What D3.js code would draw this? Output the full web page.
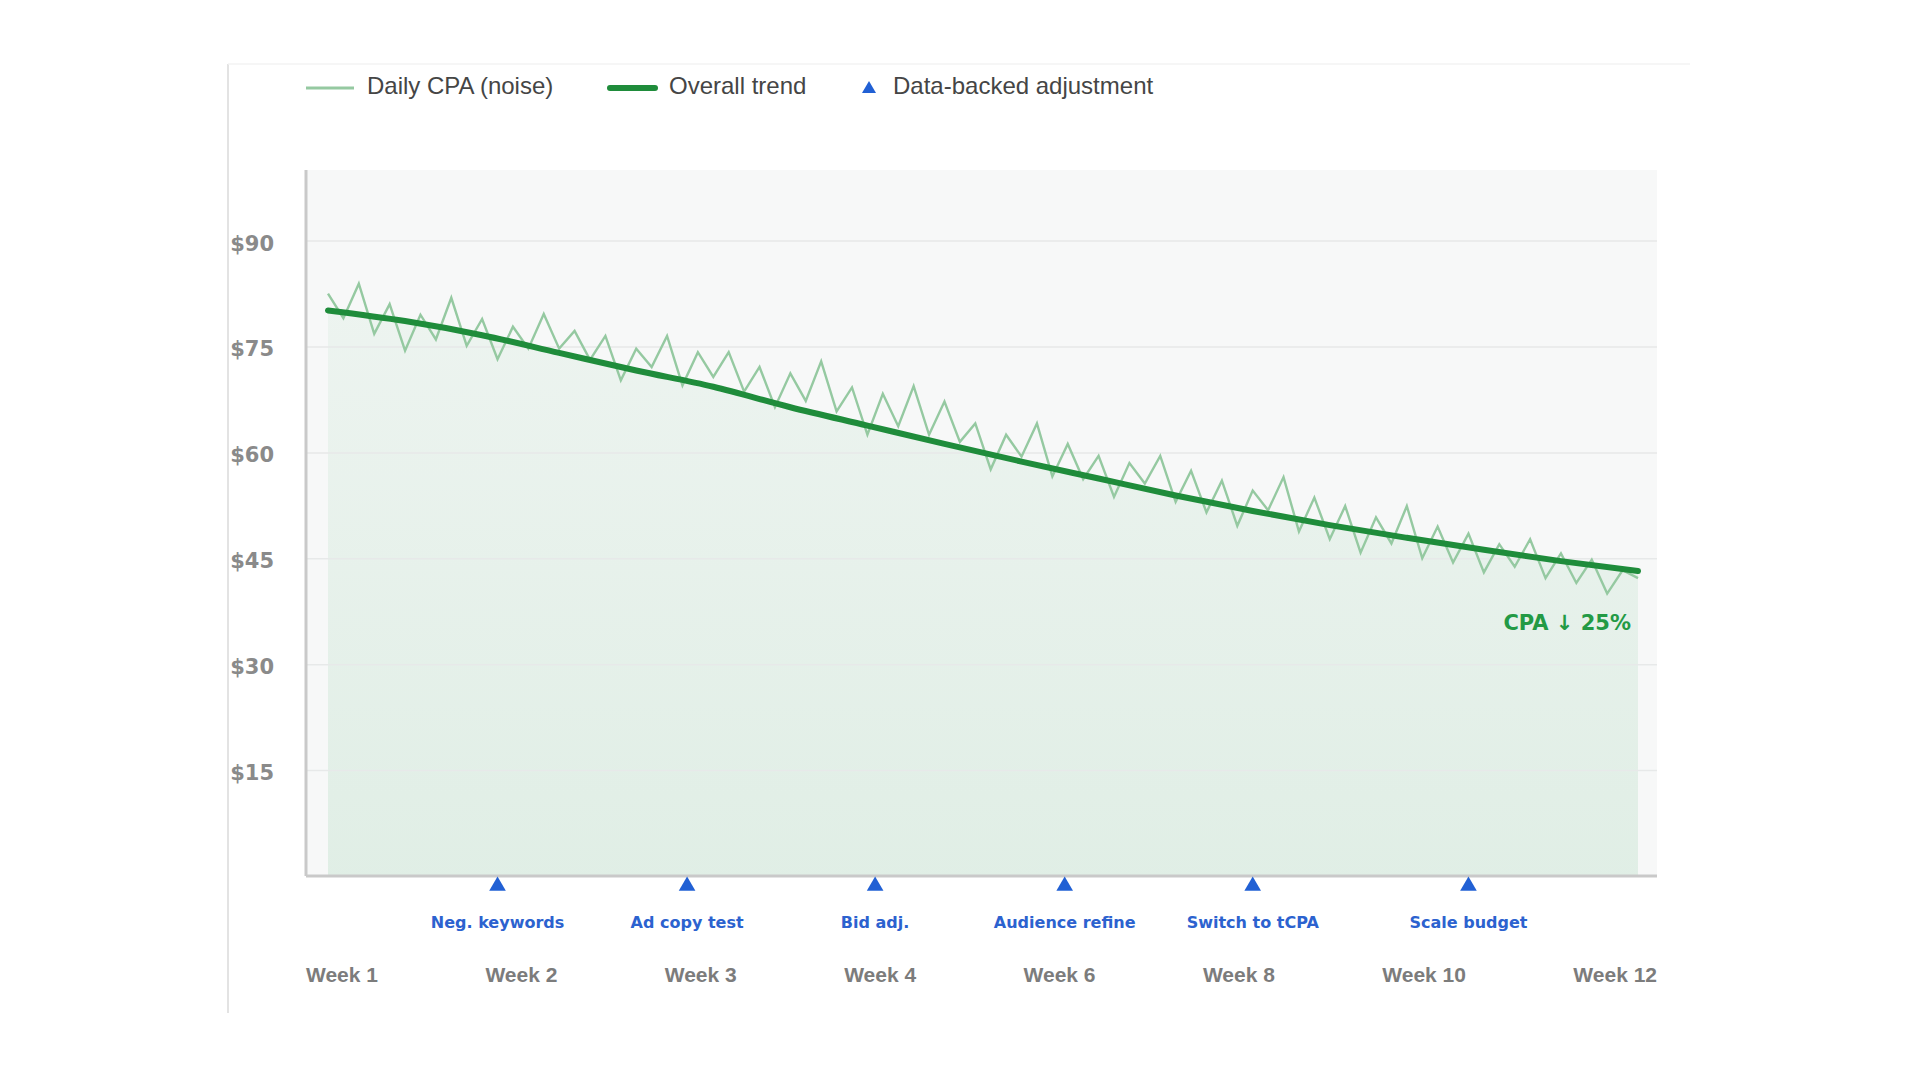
<!DOCTYPE html>
<html>
<head>
<meta charset="utf-8">
<title>CPA trend</title>
<script src="https://cdn.jsdelivr.net/npm/d3@7"></script>
<style>
  body { margin: 0; background: #fff; }
  svg { display: block; }
</style>
</head>
<body>
<svg id="chart"></svg>
<script>
// daily CPA, one value per day (86 days)
const dailyCpa = [
    82.5, 79.0, 83.9, 76.8, 81.0, 74.4, 79.5, 76.0, 81.9, 75.1,
    78.9, 73.2, 77.8, 74.7, 79.6, 74.7, 77.2, 73.1, 76.5, 70.2,
    74.7, 72.1, 76.5, 69.5, 74.2, 70.7, 74.2, 68.6, 72.1, 66.4,
    71.2, 67.3, 72.9, 65.8, 69.2, 62.5, 68.3, 63.7, 69.4, 62.5,
    67.2, 61.5, 64.1, 57.6, 62.5, 59.4, 64.1, 56.6, 61.2, 56.2,
    59.5, 53.7, 58.5, 55.6, 59.5, 53.0, 57.4, 51.5, 56.0, 49.6,
    54.6, 51.8, 56.5, 48.8, 53.6, 47.7, 52.4, 45.8, 50.8, 47.1,
    52.4, 45.0, 49.5, 44.4, 48.5, 43.0, 47.0, 43.8, 47.7, 42.2,
    45.7, 41.5, 44.8, 40.0, 43.3, 42.2
];

// overall trend, sampled every 5 days
const trendDays = [0, 5, 10, 15, 20, 25, 30, 35, 40, 45, 50, 55, 60, 65, 70, 75, 80, 85];
const trendCpa = [80.1, 78.6, 76.6, 74.1, 71.6, 69.3, 66.4, 63.8, 61.2, 58.7, 56.3, 53.9, 51.7, 49.7, 47.9, 46.2, 44.6, 43.2];

const adjustmentDays = [11, 23.3, 35.5, 47.8, 60, 74];
const adjustmentLabels = ["Neg. keywords", "Ad copy test", "Bid adj.", "Audience refine", "Switch to tCPA", "Scale budget"];

const weekLabels = ["Week 1", "Week 2", "Week 3", "Week 4", "Week 6", "Week 8", "Week 10", "Week 12"];
const yTicks = [15, 30, 45, 60, 75, 90];
const legendLabels = ["Daily CPA (noise)", "Overall trend", "Data-backed adjustment"];
const cpaNote = "CPA \u2193 25%";

class CpaChart {
    margin = {
        top: 170, right: 263, bottom: 204, left: 306
    }

    constructor(svg, width = 1920, height = 1080) {
        this.svg = svg;
        this.width = width;
        this.height = height;
        this.innerW = width - this.margin.left - this.margin.right;
        this.innerH = height - this.margin.top - this.margin.bottom;
        this.colors = {
            noise: "#95c9a1",
            trend: "#1f8c3b",
            blue: "#2160d4",
            tick: "#8a8a8a",
            week: "#7c7c7c",
            grid: "#e7e9e9",
            axis: "#c9c9c9"
        };
    }

    initialize() {
        this.svg = d3.select(this.svg)
            .attr("width", this.width)
            .attr("height", this.height);

        // card edges
        this.svg.append("line")
            .attr("x1", 228).attr("x2", 228).attr("y1", 64).attr("y2", 1013)
            .attr("stroke", "#e3e3e3").attr("stroke-width", 2);
        this.svg.append("line")
            .attr("x1", 228).attr("x2", 1690).attr("y1", 64).attr("y2", 64)
            .attr("stroke", "#f3f3f3").attr("stroke-width", 1.5);

        this.container = this.svg.append("g")
            .attr("transform", `translate(${this.margin.left}, ${this.margin.top})`);

        this.x = d3.scaleLinear()
            .domain([0, dailyCpa.length - 1])
            .range([22, this.innerW - 19]);

        this.y = d3.scaleLinear()
            .domain([0, 100])
            .range([this.innerH, 0]);

        const defs = this.svg.append("defs");
        const grad = defs.append("linearGradient")
            .attr("id", "areaFill")
            .attr("x1", 0).attr("x2", 0).attr("y1", 0).attr("y2", 1);
        grad.append("stop").attr("offset", "0%").attr("stop-color", "rgb(40,160,80)").attr("stop-opacity", 0.05);
        grad.append("stop").attr("offset", "100%").attr("stop-color", "rgb(40,160,80)").attr("stop-opacity", 0.11);

        // plot background
        this.container.append("rect")
            .attr("width", this.innerW)
            .attr("height", this.innerH)
            .attr("fill", "#f7f8f8");

        // area under the trend
        const trendPts = trendDays.map((d, i) => [d, trendCpa[i]]);
        const area = d3.area()
            .x(d => this.x(d[0]))
            .y0(this.y(0))
            .y1(d => this.y(d[1]))
            .curve(d3.curveMonotoneX);
        this.container.append("path")
            .datum(trendPts)
            .attr("d", area)
            .attr("fill", "url(#areaFill)");

        // y axis with gridlines
        const yAxisCall = d3.axisLeft(this.y)
            .tickValues(yTicks)
            .tickSize(-this.innerW)
            .tickPadding(32)
            .tickFormat(d => "$" + d);
        const yAxis = this.container.append("g").call(yAxisCall);
        yAxis.select(".domain").remove();
        yAxis.selectAll(".tick line")
            .attr("stroke", this.colors.grid)
            .attr("stroke-width", 1.5);
        yAxis.selectAll(".tick text")
            .attr("fill", this.colors.tick)
            .attr("dy", "0.45em")
            .style("font-family", "'DejaVu Sans', sans-serif")
            .style("font-weight", "bold")
            .style("font-size", "21px");

        // axis lines
        this.container.append("line")
            .attr("x1", 0).attr("x2", 0).attr("y1", 0).attr("y2", this.innerH)
            .attr("stroke", this.colors.axis).attr("stroke-width", 3);
        this.container.append("line")
            .attr("x1", 0).attr("x2", this.innerW).attr("y1", this.innerH).attr("y2", this.innerH)
            .attr("stroke", this.colors.axis).attr("stroke-width", 3);

        // daily noise line
        const line = d3.line()
            .x((d, i) => this.x(i))
            .y(d => this.y(d));
        this.container.append("path")
            .datum(dailyCpa)
            .attr("d", line)
            .attr("fill", "none")
            .attr("stroke", this.colors.noise)
            .attr("stroke-width", 2.4);

        // trend
        const trendLine = d3.line()
            .x(d => this.x(d[0]))
            .y(d => this.y(d[1]))
            .curve(d3.curveMonotoneX);
        this.container.append("path")
            .datum(trendPts)
            .attr("d", trendLine)
            .attr("fill", "none")
            .attr("stroke", this.colors.trend)
            .attr("stroke-width", 6)
            .attr("stroke-linecap", "round");

        // end note
        this.container.append("text")
            .attr("x", 1631 - this.margin.left)
            .attr("y", 630 - this.margin.top)
            .attr("text-anchor", "end")
            .attr("fill", "#239a45")
            .style("font-family", "'DejaVu Sans', sans-serif")
            .style("font-weight", "bold")
            .style("font-size", "21px")
            .text(cpaNote);

        // adjustment markers
        const tri = d3.symbol().type(d3.symbolTriangle).size(120);
        const adj = this.container.selectAll(".adj")
            .data(adjustmentDays)
            .join("g")
            .attr("class", "adj")
            .attr("transform", d => `translate(${this.x(d)},0)`);
        adj.append("path")
            .attr("d", tri)
            .attr("transform", `translate(0,${this.innerH + 10})`)
            .attr("fill", this.colors.blue);
        adj.append("text")
            .attr("y", this.innerH + 47)
            .attr("text-anchor", "middle")
            .attr("dominant-baseline", "middle")
            .attr("fill", "#2c62cf")
            .style("font-family", "'DejaVu Sans', sans-serif")
            .style("font-weight", "bold")
            .style("font-size", "16px")
            .text((d, i) => adjustmentLabels[i]);

        this.drawWeeks();
        this.drawLegend();
    }

    // week labels are spread edge to edge across the plot
    drawWeeks() {
        const g = this.container.append("g");
        const texts = g.selectAll("text")
            .data(weekLabels)
            .join("text")
            .attr("y", this.innerH + 100)
            .attr("dominant-baseline", "middle")
            .attr("fill", this.colors.week)
            .style("font-family", "'Liberation Sans', Arial, sans-serif")
            .style("font-weight", "bold")
            .style("font-size", "21px")
            .text(d => d);
        const widths = texts.nodes().map(n => n.getComputedTextLength());
        const gap = (this.innerW - d3.sum(widths)) / (weekLabels.length - 1);
        let pos = 0;
        texts.attr("x", (d, i) => {
            const p = pos;
            pos += widths[i] + gap;
            return p;
        });
    }

    drawLegend() {
        const g = this.svg.append("g").attr("transform", "translate(0,88)");
        const font = s => s.style("font-family", "'Liberation Sans', Arial, sans-serif")
            .style("font-size", "24px")
            .attr("fill", "#454545")
            .attr("dominant-baseline", "middle");

        g.append("line")
            .attr("x1", 306).attr("x2", 354)
            .attr("stroke", this.colors.noise).attr("stroke-width", 3);
        g.append("text").attr("x", 367).call(font).text(legendLabels[0]);

        g.append("line")
            .attr("x1", 610).attr("x2", 655)
            .attr("stroke", this.colors.trend).attr("stroke-width", 6)
            .attr("stroke-linecap", "round");
        g.append("text").attr("x", 669).call(font).text(legendLabels[1]);

        g.append("path")
            .attr("d", d3.symbol().type(d3.symbolTriangle).size(85))
            .attr("transform", "translate(869,1)")
            .attr("fill", this.colors.blue);
        g.append("text").attr("x", 893).call(font).text(legendLabels[2]);
    }
}

const chart = new CpaChart(document.getElementById("chart"));
chart.initialize();
</script>
</body>
</html>
